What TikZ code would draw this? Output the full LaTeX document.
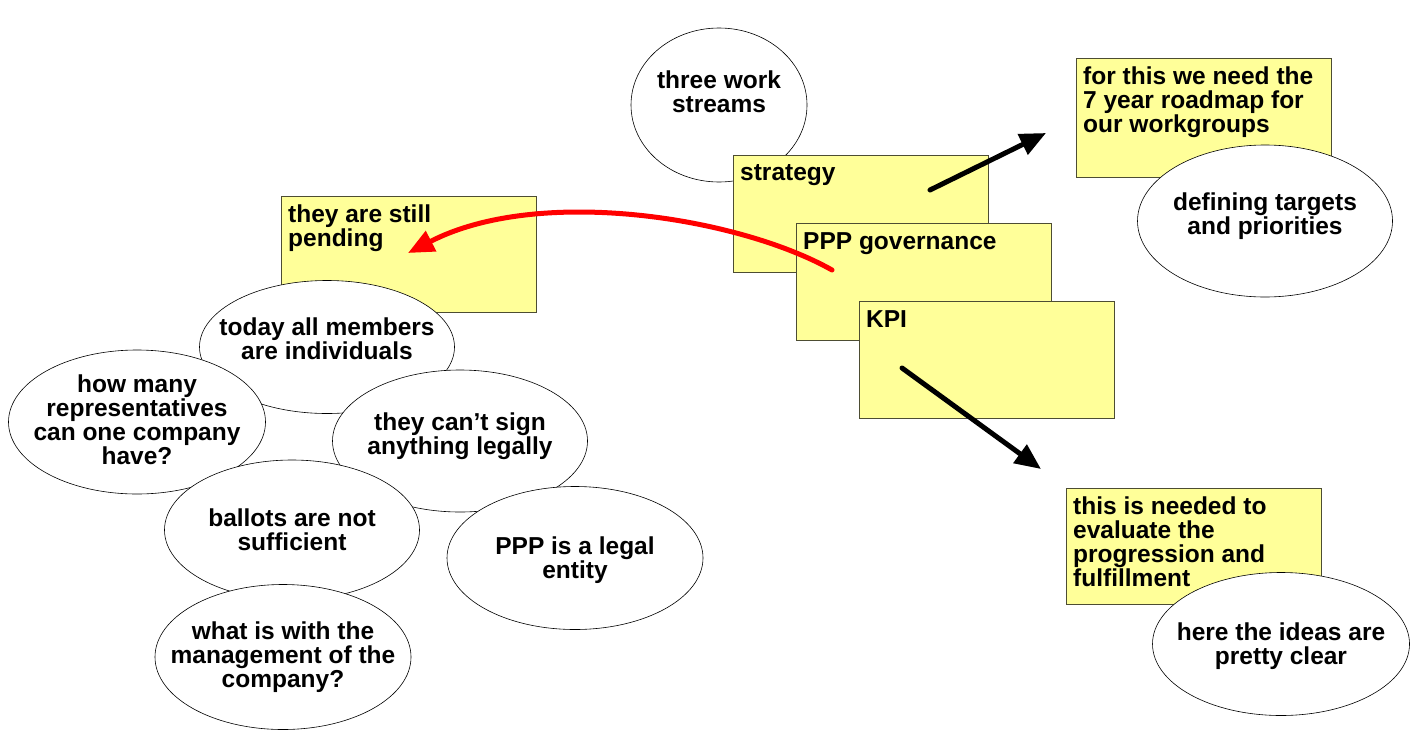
\documentclass[tikz,border=0pt]{standalone}
\usepackage{fontspec}
\setmainfont{Liberation Sans}
\usetikzlibrary{arrows.meta,shapes.geometric}
\definecolor{notefill}{HTML}{FFFF99}
\definecolor{noteline}{HTML}{4D4D33}
\definecolor{linkred}{HTML}{FF0000}
\tikzset{
  note/.style={draw=noteline, line width=.8pt, fill=notefill, anchor=north west, minimum width=255pt, minimum height=117pt, inner sep=0pt},
  notetxt/.style={anchor=north west, align=left, inner sep=0pt, xshift=7pt, yshift=-9pt, font=\bfseries\fontsize{24.5}{24}\selectfont},
  bubble/.style={ellipse, draw, line width=.6pt, fill=white, minimum width=255pt, minimum height=142pt, inner sep=0pt},
  bubtxt/.style={align=center, inner sep=0pt, font=\bfseries\fontsize{24.5}{24}\selectfont},
  ar/.style={-{Triangle[length=26pt,width=22pt]}, line width=5pt, line cap=round},
}

\begin{document}
\begin{tikzpicture}[x=1pt, y=-1pt]
        \useasboundingbox (0,0) rectangle (1412,731);
        % work streams
        \node[bubble, minimum width=176pt, minimum height=154pt, label={[bubtxt, yshift=13pt]center:three work\\streams}] (ws) at (719,105) {};
        \node[note, label={[notetxt]north west:strategy}] (strat) at (733,155) {};
        \node[note, label={[notetxt]north west:PPP governance}] (gov) at (796,223) {};
        \node[note, label={[notetxt]north west:KPI}] (kpi) at (859,301) {};
        % right side
        \node[note, minimum height=119pt, label={[notetxt]north west:for this we need the\\7 year roadmap for\\our workgroups}] (road) at (1076,58) {};
        \node[bubble, minimum height=152pt, label={[bubtxt, yshift=5pt]center:defining targets\\and priorities}] (targ) at (1265,221) {};
        \node[note, minimum height=116pt, label={[notetxt]north west:this is needed to\\evaluate the\\progression and\\fulfillment}] (eval) at (1066,488) {};
        \node[bubble, minimum width=257pt, minimum height=143pt, label={[bubtxt, yshift=-2pt]center:here the ideas are\\pretty clear}] (ideas) at (1281,644) {};
        % governance questions
        \node[note, minimum height=116pt, label={[notetxt]north west:they are still\\pending}] (pend) at (281,196) {};
        \node[bubble, minimum height=133pt, label={[bubtxt, yshift=8pt]center:today all members\\are individuals}] (indiv) at (327,347) {};
        \node[bubble, minimum width=257pt, minimum height=144pt, label={[bubtxt, yshift=2pt]center:how many\\representatives\\can one company\\have?}] (repr) at (137,422) {};
        \node[bubble, label={[bubtxt, yshift=5pt]center:they can’t sign\\anything legally}] (sign) at (460,441) {};
        \node[bubble, minimum height=140pt, label={[bubtxt]center:ballots are not\\sufficient}] (ball) at (292,530) {};
        \node[bubble, minimum width=256pt, minimum height=143pt, label={[bubtxt, yshift=-2pt]center:PPP is a legal\\entity}] (legal) at (575,558) {};
        \node[bubble, minimum width=256pt, minimum height=145pt, label={[bubtxt]center:what is with the\\management of the\\company?}] (mgmt) at (283,657) {};
        % arrows
        \coordinate (stratout) at (930,190);
        \coordinate (roadin) at (1046,133);
        \coordinate (kpiout) at (902,368);
        \coordinate (evalin) at (1041,469);
        \coordinate (govout) at (832,270);
        \coordinate (pendin) at (408,253);
        \draw[ar] (stratout) -- (roadin);
        \draw[ar] (kpiout) -- (evalin);
        \draw[ar, draw=linkred] (govout) .. controls (740,218) and (540,185) .. (pendin);
      \end{tikzpicture}
\end{document}
